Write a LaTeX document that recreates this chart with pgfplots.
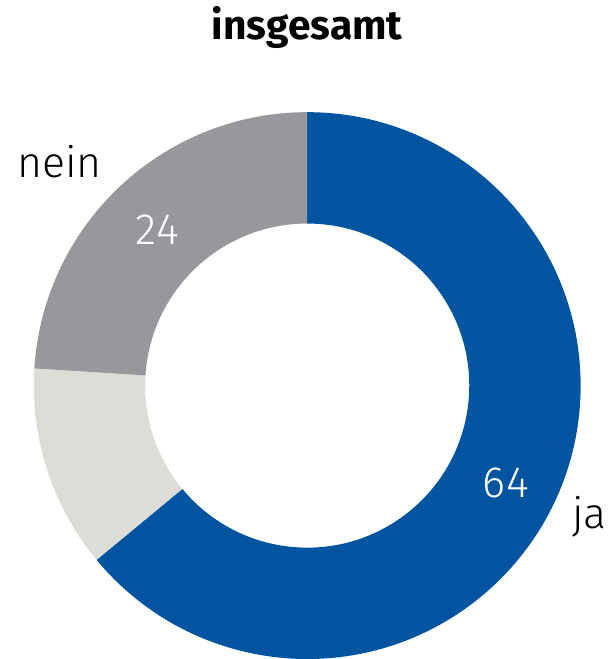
\documentclass[border=0pt]{standalone}
\usepackage{pgfplots}
\pgfplotsset{compat=1.18}
\usepackage{pgfplotstable}
\usepackage{fontspec}
\setmainfont{Fira Sans}
\newfontfamily\lightfont{Fira Sans Light}
\newfontfamily\digitfont{Fira Sans Light}[LetterSpace=3]

\definecolor{jablue}{RGB}{0,84,160}
\definecolor{neingray}{RGB}{152,151,156}
\definecolor{restgray}{RGB}{221,220,215}

% share in percent, clockwise from 12 o'clock
\pgfplotstableread{
label value
ja    64
rest  12
nein  24
}\sharetable

\begin{document}
\begin{tikzpicture}
    \pgfplotstablegetelem{0}{value}\of\sharetable \let\vja\pgfplotsretval
    \pgfplotstablegetelem{1}{value}\of\sharetable \let\vrest\pgfplotsretval
    \pgfplotstablegetelem{2}{value}\of\sharetable \let\vnein\pgfplotsretval
    \pgfmathsetmacro{\aA}{90}
    \pgfmathsetmacro{\aB}{\aA-3.6*\vja}
    \pgfmathsetmacro{\aC}{\aB-3.6*\vrest}
    \pgfmathsetmacro{\aD}{\aC-3.6*\vnein}
    \def\ro{137.5}
    \def\ri{81.5}
    \begin{axis}[
        x=1pt, y=1pt,
        hide axis,
        clip=false,
        xmin=-154.5, xmax=153,
        ymin=-137, ymax=192.5,
    ]
        \path (axis cs:-154.5,-137) rectangle (axis cs:153,192.5);
        % ring segments
        \fill[jablue] (axis cs:{\ro*cos(\aA)},{\ro*sin(\aA)})
            arc[start angle=\aA, end angle=\aB, radius=\ro pt]
            -- (axis cs:{\ri*cos(\aB)},{\ri*sin(\aB)})
            arc[start angle=\aB, end angle=\aA, radius=\ri pt] -- cycle;
        \fill[restgray] (axis cs:{\ro*cos(\aB)},{\ro*sin(\aB)})
            arc[start angle=\aB, end angle=\aC, radius=\ro pt]
            -- (axis cs:{\ri*cos(\aC)},{\ri*sin(\aC)})
            arc[start angle=\aC, end angle=\aB, radius=\ri pt] -- cycle;
        \fill[neingray] (axis cs:{\ro*cos(\aC)},{\ro*sin(\aC)})
            arc[start angle=\aC, end angle=\aD, radius=\ro pt]
            -- (axis cs:{\ri*cos(\aD)},{\ri*sin(\aD)})
            arc[start angle=\aD, end angle=\aC, radius=\ri pt] -- cycle;

        % labels
        \node[font=\bfseries\fontsize{20.5}{24}\selectfont] at (axis cs:0,180) {insgesamt};
        \node[white, font=\digitfont\fontsize{22}{25}\selectfont] at (axis cs:100,-49) {\vja};
        \node[white, font=\digitfont\fontsize{22}{25}\selectfont] at (axis cs:-75.5,78.5) {\vnein};
        \node[font=\lightfont\fontsize{21.5}{25}\selectfont] at (axis cs:-124.5,112.5) {nein};
        \node[font=\lightfont\fontsize{21.5}{25}\selectfont] at (axis cs:142,-66) {ja};
    \end{axis}
\end{tikzpicture}
\end{document}
